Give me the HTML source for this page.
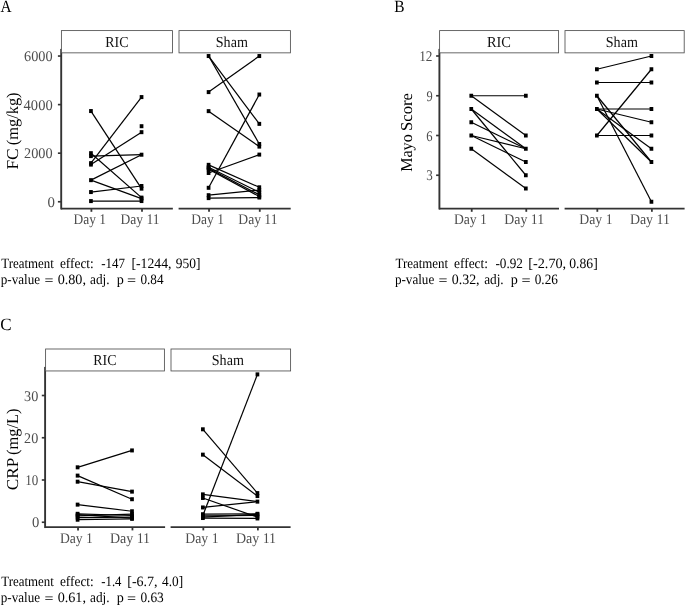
<!DOCTYPE html>
<html lang="en"><head><meta charset="utf-8"><title>Figure</title>
<style>
html,body{margin:0;padding:0;background:#fff;}
body{width:685px;height:605px;overflow:hidden;}
svg{display:block;font-family:"Liberation Serif", "DejaVu Serif", serif;text-rendering:geometricPrecision;will-change:transform;}
</style></head><body>
<svg width="685" height="605" viewBox="0 0 685 605">
<rect width="685" height="605" fill="#fff"/>
<!-- panel A -->
<text x="0.45" y="11.6" font-size="17.2" fill="#000" textLength="11.06" lengthAdjust="spacingAndGlyphs">A</text>
<line x1="90.95" y1="111.05" x2="141.55" y2="188.64" stroke="#000" stroke-width="1.22"/>
<line x1="90.95" y1="153.18" x2="141.55" y2="197.62" stroke="#000" stroke-width="1.22"/>
<line x1="90.95" y1="156.09" x2="141.55" y2="154.71" stroke="#000" stroke-width="1.22"/>
<line x1="90.95" y1="163.14" x2="141.55" y2="97.08" stroke="#000" stroke-width="1.22"/>
<line x1="90.95" y1="164.59" x2="141.55" y2="132.17" stroke="#000" stroke-width="1.22"/>
<line x1="90.95" y1="180.16" x2="141.55" y2="154.71" stroke="#000" stroke-width="1.22"/>
<line x1="90.95" y1="180.16" x2="141.55" y2="198.59" stroke="#000" stroke-width="1.22"/>
<line x1="90.95" y1="192.06" x2="141.55" y2="186.01" stroke="#000" stroke-width="1.22"/>
<line x1="90.95" y1="201.09" x2="141.55" y2="201.05" stroke="#000" stroke-width="1.22"/>
<rect x="89.1" y="199.09" width="3.7" height="4" fill="#000"/>
<rect x="89.1" y="190.06" width="3.7" height="4" fill="#000"/>
<rect x="89.1" y="178.16" width="3.7" height="4" fill="#000"/>
<rect x="89.1" y="162.59" width="3.7" height="4" fill="#000"/>
<rect x="89.1" y="161.14" width="3.7" height="4" fill="#000"/>
<rect x="89.1" y="154.09" width="3.7" height="4" fill="#000"/>
<rect x="89.1" y="151.18" width="3.7" height="4" fill="#000"/>
<rect x="89.1" y="109.05" width="3.7" height="4" fill="#000"/>
<rect x="139.7" y="199.05" width="3.7" height="4" fill="#000"/>
<rect x="139.7" y="196.59" width="3.7" height="4" fill="#000"/>
<rect x="139.7" y="195.62" width="3.7" height="4" fill="#000"/>
<rect x="139.7" y="186.64" width="3.7" height="4" fill="#000"/>
<rect x="139.7" y="184.01" width="3.7" height="4" fill="#000"/>
<rect x="139.7" y="152.71" width="3.7" height="4" fill="#000"/>
<rect x="139.7" y="130.17" width="3.7" height="4" fill="#000"/>
<rect x="139.7" y="124.2" width="3.7" height="4" fill="#000"/>
<rect x="139.7" y="95.08" width="3.7" height="4" fill="#000"/>
<line x1="91.4" y1="208.6" x2="91.4" y2="211.8" stroke="#333" stroke-width="1.8"/>
<line x1="142" y1="208.6" x2="142" y2="211.8" stroke="#333" stroke-width="1.8"/>
<line x1="61.05" y1="208.6" x2="172.85" y2="208.6" stroke="#333" stroke-width="1.7"/>
<line x1="208.58" y1="56.04" x2="259.32" y2="123.87" stroke="#000" stroke-width="1.22"/>
<line x1="208.58" y1="56.04" x2="259.32" y2="144" stroke="#000" stroke-width="1.22"/>
<line x1="208.58" y1="92.1" x2="259.32" y2="56.04" stroke="#000" stroke-width="1.22"/>
<line x1="208.58" y1="111.14" x2="259.32" y2="146.6" stroke="#000" stroke-width="1.22"/>
<line x1="208.58" y1="172.97" x2="259.32" y2="154.61" stroke="#000" stroke-width="1.22"/>
<line x1="208.58" y1="187.81" x2="259.32" y2="94.53" stroke="#000" stroke-width="1.22"/>
<line x1="208.58" y1="164.84" x2="259.32" y2="187.3" stroke="#000" stroke-width="1.22"/>
<line x1="208.58" y1="167.27" x2="259.32" y2="192.28" stroke="#000" stroke-width="1.22"/>
<line x1="208.58" y1="168.36" x2="259.32" y2="194.83" stroke="#000" stroke-width="1.22"/>
<line x1="208.58" y1="169.33" x2="259.32" y2="196.53" stroke="#000" stroke-width="1.22"/>
<line x1="208.58" y1="195.19" x2="259.32" y2="190.09" stroke="#000" stroke-width="1.22"/>
<line x1="208.58" y1="198.11" x2="259.32" y2="197.52" stroke="#000" stroke-width="1.22"/>
<rect x="206.73" y="196.11" width="3.7" height="4" fill="#000"/>
<rect x="206.73" y="193.19" width="3.7" height="4" fill="#000"/>
<rect x="206.73" y="185.81" width="3.7" height="4" fill="#000"/>
<rect x="206.73" y="170.97" width="3.7" height="4" fill="#000"/>
<rect x="206.73" y="167.33" width="3.7" height="4" fill="#000"/>
<rect x="206.73" y="166.36" width="3.7" height="4" fill="#000"/>
<rect x="206.73" y="165.27" width="3.7" height="4" fill="#000"/>
<rect x="206.73" y="162.84" width="3.7" height="4" fill="#000"/>
<rect x="206.73" y="109.14" width="3.7" height="4" fill="#000"/>
<rect x="206.73" y="90.1" width="3.7" height="4" fill="#000"/>
<rect x="206.73" y="54.04" width="3.7" height="4" fill="#000"/>
<rect x="257.47" y="195.52" width="3.7" height="4" fill="#000"/>
<rect x="257.47" y="194.53" width="3.7" height="4" fill="#000"/>
<rect x="257.47" y="192.83" width="3.7" height="4" fill="#000"/>
<rect x="257.47" y="190.28" width="3.7" height="4" fill="#000"/>
<rect x="257.47" y="188.09" width="3.7" height="4" fill="#000"/>
<rect x="257.47" y="185.3" width="3.7" height="4" fill="#000"/>
<rect x="257.47" y="152.61" width="3.7" height="4" fill="#000"/>
<rect x="257.47" y="144.6" width="3.7" height="4" fill="#000"/>
<rect x="257.47" y="142" width="3.7" height="4" fill="#000"/>
<rect x="257.47" y="121.87" width="3.7" height="4" fill="#000"/>
<rect x="257.47" y="92.53" width="3.7" height="4" fill="#000"/>
<rect x="257.47" y="54.04" width="3.7" height="4" fill="#000"/>
<line x1="209.03" y1="208.6" x2="209.03" y2="211.8" stroke="#333" stroke-width="1.8"/>
<line x1="259.77" y1="208.6" x2="259.77" y2="211.8" stroke="#333" stroke-width="1.8"/>
<line x1="178.6" y1="208.6" x2="290.7" y2="208.6" stroke="#333" stroke-width="1.7"/>
<line x1="61.2" y1="48.9" x2="61.2" y2="209.45" stroke="#333" stroke-width="1.9"/>
<line x1="57.9" y1="201.75" x2="61.2" y2="201.75" stroke="#333" stroke-width="1.65"/>
<line x1="57.9" y1="153.18" x2="61.2" y2="153.18" stroke="#333" stroke-width="1.65"/>
<line x1="57.9" y1="104.61" x2="61.2" y2="104.61" stroke="#333" stroke-width="1.65"/>
<line x1="57.9" y1="56.04" x2="61.2" y2="56.04" stroke="#333" stroke-width="1.65"/>
<text x="24.09" y="61.24" font-size="14.7" fill="#4d4d4d" textLength="28.56" lengthAdjust="spacingAndGlyphs">6000</text>
<text x="23.62" y="109.81" font-size="14.7" fill="#4d4d4d" textLength="29.04" lengthAdjust="spacingAndGlyphs">4000</text>
<text x="24.07" y="158.38" font-size="14.7" fill="#4d4d4d" textLength="28.57" lengthAdjust="spacingAndGlyphs">2000</text>
<text x="47.63" y="206.95" font-size="14.7" fill="#4d4d4d" textLength="7.43" lengthAdjust="spacingAndGlyphs">0</text>
<rect x="61.4" y="30.6" width="111.1" height="22.25" fill="#fff" stroke="#4f4f4f" stroke-width="0.85"/>
<text x="105.3" y="46.9" font-size="15.3" fill="#111" textLength="23.17" lengthAdjust="spacingAndGlyphs">RIC</text>
<rect x="179" y="30.6" width="111.4" height="22.25" fill="#fff" stroke="#4f4f4f" stroke-width="0.85"/>
<text x="215.76" y="46.9" font-size="15.3" fill="#111" textLength="32.17" lengthAdjust="spacingAndGlyphs">Sham</text>
<text x="73.61" y="224.2" font-size="14.7" fill="#4d4d4d" textLength="32.5" lengthAdjust="spacingAndGlyphs">Day 1</text>
<text x="120.51" y="224.2" font-size="14.7" fill="#4d4d4d" textLength="38.99" lengthAdjust="spacingAndGlyphs">Day 11</text>
<text x="191.31" y="224.2" font-size="14.7" fill="#4d4d4d" textLength="32.6" lengthAdjust="spacingAndGlyphs">Day 1</text>
<text x="238.31" y="224.2" font-size="14.7" fill="#4d4d4d" textLength="39.19" lengthAdjust="spacingAndGlyphs">Day 11</text>
<g transform="translate(17.6,169.4) rotate(-90)"><text x="-0.2" y="0" font-size="16.6" fill="#000" textLength="21.26" lengthAdjust="spacingAndGlyphs">FC</text></g>
<g transform="translate(17.6,144.8) rotate(-90)"><text x="-0.42" y="0" font-size="16.6" fill="#000" textLength="52.74" lengthAdjust="spacingAndGlyphs">(mg/kg)</text></g>
<text x="1.27" y="267.7" font-size="14.3" fill="#000" textLength="52.51" lengthAdjust="spacingAndGlyphs">Treatment</text>
<text x="59.88" y="267.7" font-size="14.3" fill="#000" textLength="33.89" lengthAdjust="spacingAndGlyphs">effect:</text>
<text x="101.22" y="267.7" font-size="14.3" fill="#000" textLength="23.75" lengthAdjust="spacingAndGlyphs">-147</text>
<text x="131.48" y="267.7" font-size="14.3" fill="#000" textLength="39.98" lengthAdjust="spacingAndGlyphs">[-1244,</text>
<text x="175.67" y="267.7" font-size="14.3" fill="#000" textLength="24.74" lengthAdjust="spacingAndGlyphs">950]</text>
<text x="0.79" y="283.9" font-size="14.3" fill="#000" textLength="39.37" lengthAdjust="spacingAndGlyphs">p-value</text>
<text x="44.41" y="284.9" font-size="14.3" fill="#000" textLength="8.97" lengthAdjust="spacingAndGlyphs">=</text>
<text x="57.66" y="283.9" font-size="14.3" fill="#000" textLength="28.33" lengthAdjust="spacingAndGlyphs">0.80,</text>
<text x="90.03" y="283.9" font-size="14.3" fill="#000" textLength="19.54" lengthAdjust="spacingAndGlyphs">adj.</text>
<text x="116.77" y="283.9" font-size="14.3" fill="#000" textLength="7.08" lengthAdjust="spacingAndGlyphs">p</text>
<text x="127.1" y="284.9" font-size="14.3" fill="#000" textLength="9.09" lengthAdjust="spacingAndGlyphs">=</text>
<text x="140.4" y="283.9" font-size="14.3" fill="#000" textLength="23.11" lengthAdjust="spacingAndGlyphs">0.84</text>
<!-- panel B -->
<text x="394.36" y="11.6" font-size="17.2" fill="#000" textLength="10.3" lengthAdjust="spacingAndGlyphs">B</text>
<line x1="471.27" y1="95.75" x2="525.83" y2="95.75" stroke="#000" stroke-width="1.22"/>
<line x1="471.27" y1="95.75" x2="525.83" y2="135.5" stroke="#000" stroke-width="1.22"/>
<line x1="471.27" y1="109" x2="525.83" y2="148.75" stroke="#000" stroke-width="1.22"/>
<line x1="471.27" y1="109" x2="525.83" y2="175.25" stroke="#000" stroke-width="1.22"/>
<line x1="471.27" y1="122.25" x2="525.83" y2="148.75" stroke="#000" stroke-width="1.22"/>
<line x1="471.27" y1="135.5" x2="525.83" y2="148.75" stroke="#000" stroke-width="1.22"/>
<line x1="471.27" y1="135.5" x2="525.83" y2="162" stroke="#000" stroke-width="1.22"/>
<line x1="471.27" y1="148.75" x2="525.83" y2="188.5" stroke="#000" stroke-width="1.22"/>
<rect x="469.42" y="146.75" width="3.7" height="4" fill="#000"/>
<rect x="469.42" y="133.5" width="3.7" height="4" fill="#000"/>
<rect x="469.42" y="120.25" width="3.7" height="4" fill="#000"/>
<rect x="469.42" y="107" width="3.7" height="4" fill="#000"/>
<rect x="469.42" y="93.75" width="3.7" height="4" fill="#000"/>
<rect x="523.98" y="186.5" width="3.7" height="4" fill="#000"/>
<rect x="523.98" y="173.25" width="3.7" height="4" fill="#000"/>
<rect x="523.98" y="160" width="3.7" height="4" fill="#000"/>
<rect x="523.98" y="146.75" width="3.7" height="4" fill="#000"/>
<rect x="523.98" y="133.5" width="3.7" height="4" fill="#000"/>
<rect x="523.98" y="93.75" width="3.7" height="4" fill="#000"/>
<line x1="471.72" y1="208.6" x2="471.72" y2="211.8" stroke="#333" stroke-width="1.8"/>
<line x1="526.28" y1="208.6" x2="526.28" y2="211.8" stroke="#333" stroke-width="1.8"/>
<line x1="439" y1="208.6" x2="559" y2="208.6" stroke="#333" stroke-width="1.7"/>
<line x1="596.87" y1="69.25" x2="651.43" y2="56" stroke="#000" stroke-width="1.22"/>
<line x1="596.87" y1="82.5" x2="651.43" y2="82.5" stroke="#000" stroke-width="1.22"/>
<line x1="596.87" y1="95.75" x2="651.43" y2="162" stroke="#000" stroke-width="1.22"/>
<line x1="596.87" y1="95.75" x2="651.43" y2="201.75" stroke="#000" stroke-width="1.22"/>
<line x1="596.87" y1="109" x2="651.43" y2="109" stroke="#000" stroke-width="1.22"/>
<line x1="596.87" y1="109" x2="651.43" y2="122.25" stroke="#000" stroke-width="1.22"/>
<line x1="596.87" y1="109" x2="651.43" y2="148.75" stroke="#000" stroke-width="1.22"/>
<line x1="596.87" y1="109" x2="651.43" y2="162" stroke="#000" stroke-width="1.22"/>
<line x1="596.87" y1="135.5" x2="651.43" y2="135.5" stroke="#000" stroke-width="1.22"/>
<line x1="596.87" y1="135.5" x2="651.43" y2="69.25" stroke="#000" stroke-width="1.22"/>
<rect x="595.02" y="133.5" width="3.7" height="4" fill="#000"/>
<rect x="595.02" y="107" width="3.7" height="4" fill="#000"/>
<rect x="595.02" y="93.75" width="3.7" height="4" fill="#000"/>
<rect x="595.02" y="80.5" width="3.7" height="4" fill="#000"/>
<rect x="595.02" y="67.25" width="3.7" height="4" fill="#000"/>
<rect x="649.58" y="199.75" width="3.7" height="4" fill="#000"/>
<rect x="649.58" y="160" width="3.7" height="4" fill="#000"/>
<rect x="649.58" y="146.75" width="3.7" height="4" fill="#000"/>
<rect x="649.58" y="133.5" width="3.7" height="4" fill="#000"/>
<rect x="649.58" y="120.25" width="3.7" height="4" fill="#000"/>
<rect x="649.58" y="107" width="3.7" height="4" fill="#000"/>
<rect x="649.58" y="80.5" width="3.7" height="4" fill="#000"/>
<rect x="649.58" y="67.25" width="3.7" height="4" fill="#000"/>
<rect x="649.58" y="54" width="3.7" height="4" fill="#000"/>
<line x1="597.32" y1="208.6" x2="597.32" y2="211.8" stroke="#333" stroke-width="1.8"/>
<line x1="651.88" y1="208.6" x2="651.88" y2="211.8" stroke="#333" stroke-width="1.8"/>
<line x1="564.6" y1="208.6" x2="684.6" y2="208.6" stroke="#333" stroke-width="1.7"/>
<line x1="439.4" y1="48.9" x2="439.4" y2="209.45" stroke="#333" stroke-width="1.9"/>
<line x1="436.1" y1="175.25" x2="439.4" y2="175.25" stroke="#333" stroke-width="1.65"/>
<line x1="436.1" y1="135.5" x2="439.4" y2="135.5" stroke="#333" stroke-width="1.65"/>
<line x1="436.1" y1="95.75" x2="439.4" y2="95.75" stroke="#333" stroke-width="1.65"/>
<line x1="436.1" y1="56" x2="439.4" y2="56" stroke="#333" stroke-width="1.65"/>
<text x="419.13" y="61.2" font-size="14.7" fill="#4d4d4d" textLength="13.3" lengthAdjust="spacingAndGlyphs">12</text>
<text x="426.5" y="100.95" font-size="14.7" fill="#4d4d4d" textLength="6.21" lengthAdjust="spacingAndGlyphs">9</text>
<text x="426.36" y="140.7" font-size="14.7" fill="#4d4d4d" textLength="6.32" lengthAdjust="spacingAndGlyphs">6</text>
<text x="426.27" y="180.45" font-size="14.7" fill="#4d4d4d" textLength="6.54" lengthAdjust="spacingAndGlyphs">3</text>
<rect x="439.6" y="30.6" width="119" height="22.25" fill="#fff" stroke="#4f4f4f" stroke-width="0.85"/>
<text x="486.89" y="46.9" font-size="15.3" fill="#111" textLength="24.01" lengthAdjust="spacingAndGlyphs">RIC</text>
<rect x="565" y="30.6" width="119.2" height="22.25" fill="#fff" stroke="#4f4f4f" stroke-width="0.85"/>
<text x="605.76" y="46.9" font-size="15.3" fill="#111" textLength="32.17" lengthAdjust="spacingAndGlyphs">Sham</text>
<text x="453.91" y="224.2" font-size="14.7" fill="#4d4d4d" textLength="33.01" lengthAdjust="spacingAndGlyphs">Day 1</text>
<text x="504.31" y="224.2" font-size="14.7" fill="#4d4d4d" textLength="39.81" lengthAdjust="spacingAndGlyphs">Day 11</text>
<text x="579.3" y="224.2" font-size="14.7" fill="#4d4d4d" textLength="33.22" lengthAdjust="spacingAndGlyphs">Day 1</text>
<text x="629.9" y="224.2" font-size="14.7" fill="#4d4d4d" textLength="40.02" lengthAdjust="spacingAndGlyphs">Day 11</text>
<g transform="translate(412,171.7) rotate(-90)"><text x="-0.16" y="0" font-size="16.6" fill="#000" textLength="37.58" lengthAdjust="spacingAndGlyphs">Mayo</text></g>
<g transform="translate(412,130.1) rotate(-90)"><text x="-0.81" y="0" font-size="16.6" fill="#000" textLength="37.89" lengthAdjust="spacingAndGlyphs">Score</text></g>
<text x="395.47" y="267.7" font-size="14.3" fill="#000" textLength="52.61" lengthAdjust="spacingAndGlyphs">Treatment</text>
<text x="453.98" y="267.7" font-size="14.3" fill="#000" textLength="34.1" lengthAdjust="spacingAndGlyphs">effect:</text>
<text x="495.41" y="267.7" font-size="14.3" fill="#000" textLength="27.52" lengthAdjust="spacingAndGlyphs">-0.92</text>
<text x="528.24" y="267.7" font-size="14.3" fill="#000" textLength="37.95" lengthAdjust="spacingAndGlyphs">[-2.70,</text>
<text x="569.28" y="267.7" font-size="14.3" fill="#000" textLength="28.43" lengthAdjust="spacingAndGlyphs">0.86]</text>
<text x="394.89" y="283.9" font-size="14.3" fill="#000" textLength="39.37" lengthAdjust="spacingAndGlyphs">p-value</text>
<text x="438.51" y="284.9" font-size="14.3" fill="#000" textLength="8.97" lengthAdjust="spacingAndGlyphs">=</text>
<text x="451.77" y="283.9" font-size="14.3" fill="#000" textLength="27.81" lengthAdjust="spacingAndGlyphs">0.32,</text>
<text x="484.13" y="283.9" font-size="14.3" fill="#000" textLength="19.54" lengthAdjust="spacingAndGlyphs">adj.</text>
<text x="510.87" y="283.9" font-size="14.3" fill="#000" textLength="7.08" lengthAdjust="spacingAndGlyphs">p</text>
<text x="521.4" y="284.9" font-size="14.3" fill="#000" textLength="9.09" lengthAdjust="spacingAndGlyphs">=</text>
<text x="534.7" y="283.9" font-size="14.3" fill="#000" textLength="23.2" lengthAdjust="spacingAndGlyphs">0.26</text>
<!-- panel C -->
<text x="0.3" y="329.6" font-size="17.2" fill="#000" textLength="11.33" lengthAdjust="spacingAndGlyphs">C</text>
<line x1="77.59" y1="467.32" x2="132.01" y2="450.43" stroke="#000" stroke-width="1.22"/>
<line x1="77.59" y1="475.61" x2="132.01" y2="499.22" stroke="#000" stroke-width="1.22"/>
<line x1="77.59" y1="481.69" x2="132.01" y2="491.62" stroke="#000" stroke-width="1.22"/>
<line x1="77.59" y1="504.63" x2="132.01" y2="511.26" stroke="#000" stroke-width="1.22"/>
<line x1="77.59" y1="513.8" x2="132.01" y2="515.49" stroke="#000" stroke-width="1.22"/>
<line x1="77.59" y1="515.91" x2="132.01" y2="514.22" stroke="#000" stroke-width="1.22"/>
<line x1="77.59" y1="517.6" x2="132.01" y2="517.18" stroke="#000" stroke-width="1.22"/>
<line x1="77.59" y1="519.72" x2="132.01" y2="518.87" stroke="#000" stroke-width="1.22"/>
<line x1="77.59" y1="514.64" x2="132.01" y2="518.02" stroke="#000" stroke-width="1.22"/>
<rect x="75.74" y="517.72" width="3.7" height="4" fill="#000"/>
<rect x="75.74" y="515.6" width="3.7" height="4" fill="#000"/>
<rect x="75.74" y="513.91" width="3.7" height="4" fill="#000"/>
<rect x="75.74" y="512.64" width="3.7" height="4" fill="#000"/>
<rect x="75.74" y="511.8" width="3.7" height="4" fill="#000"/>
<rect x="75.74" y="502.63" width="3.7" height="4" fill="#000"/>
<rect x="75.74" y="479.69" width="3.7" height="4" fill="#000"/>
<rect x="75.74" y="473.61" width="3.7" height="4" fill="#000"/>
<rect x="75.74" y="465.32" width="3.7" height="4" fill="#000"/>
<rect x="130.16" y="516.87" width="3.7" height="4" fill="#000"/>
<rect x="130.16" y="516.02" width="3.7" height="4" fill="#000"/>
<rect x="130.16" y="515.18" width="3.7" height="4" fill="#000"/>
<rect x="130.16" y="513.49" width="3.7" height="4" fill="#000"/>
<rect x="130.16" y="512.22" width="3.7" height="4" fill="#000"/>
<rect x="130.16" y="509.26" width="3.7" height="4" fill="#000"/>
<rect x="130.16" y="497.22" width="3.7" height="4" fill="#000"/>
<rect x="130.16" y="489.62" width="3.7" height="4" fill="#000"/>
<rect x="130.16" y="448.43" width="3.7" height="4" fill="#000"/>
<line x1="78.04" y1="527.2" x2="78.04" y2="530.4" stroke="#333" stroke-width="1.8"/>
<line x1="132.46" y1="527.2" x2="132.46" y2="530.4" stroke="#333" stroke-width="1.8"/>
<line x1="45.4" y1="527.2" x2="165.1" y2="527.2" stroke="#333" stroke-width="1.7"/>
<line x1="202.87" y1="515.49" x2="257.43" y2="374.38" stroke="#000" stroke-width="1.22"/>
<line x1="202.87" y1="429.3" x2="257.43" y2="493.1" stroke="#000" stroke-width="1.22"/>
<line x1="202.87" y1="454.65" x2="257.43" y2="496.06" stroke="#000" stroke-width="1.22"/>
<line x1="202.87" y1="494.37" x2="257.43" y2="501.63" stroke="#000" stroke-width="1.22"/>
<line x1="202.87" y1="497.96" x2="257.43" y2="517.18" stroke="#000" stroke-width="1.22"/>
<line x1="202.87" y1="507.46" x2="257.43" y2="501.63" stroke="#000" stroke-width="1.22"/>
<line x1="202.87" y1="514.22" x2="257.43" y2="513.8" stroke="#000" stroke-width="1.22"/>
<line x1="202.87" y1="515.91" x2="257.43" y2="515.49" stroke="#000" stroke-width="1.22"/>
<line x1="202.87" y1="518.02" x2="257.43" y2="518.45" stroke="#000" stroke-width="1.22"/>
<line x1="202.87" y1="517.18" x2="257.43" y2="514.22" stroke="#000" stroke-width="1.22"/>
<rect x="201.02" y="516.02" width="3.7" height="4" fill="#000"/>
<rect x="201.02" y="515.18" width="3.7" height="4" fill="#000"/>
<rect x="201.02" y="513.91" width="3.7" height="4" fill="#000"/>
<rect x="201.02" y="513.49" width="3.7" height="4" fill="#000"/>
<rect x="201.02" y="512.22" width="3.7" height="4" fill="#000"/>
<rect x="201.02" y="505.46" width="3.7" height="4" fill="#000"/>
<rect x="201.02" y="495.96" width="3.7" height="4" fill="#000"/>
<rect x="201.02" y="492.37" width="3.7" height="4" fill="#000"/>
<rect x="201.02" y="452.65" width="3.7" height="4" fill="#000"/>
<rect x="201.02" y="427.3" width="3.7" height="4" fill="#000"/>
<rect x="255.58" y="516.45" width="3.7" height="4" fill="#000"/>
<rect x="255.58" y="515.18" width="3.7" height="4" fill="#000"/>
<rect x="255.58" y="513.49" width="3.7" height="4" fill="#000"/>
<rect x="255.58" y="512.22" width="3.7" height="4" fill="#000"/>
<rect x="255.58" y="511.8" width="3.7" height="4" fill="#000"/>
<rect x="255.58" y="499.63" width="3.7" height="4" fill="#000"/>
<rect x="255.58" y="494.06" width="3.7" height="4" fill="#000"/>
<rect x="255.58" y="491.1" width="3.7" height="4" fill="#000"/>
<rect x="255.58" y="372.38" width="3.7" height="4" fill="#000"/>
<line x1="203.32" y1="527.2" x2="203.32" y2="530.4" stroke="#333" stroke-width="1.8"/>
<line x1="257.88" y1="527.2" x2="257.88" y2="530.4" stroke="#333" stroke-width="1.8"/>
<line x1="170.6" y1="527.2" x2="290.6" y2="527.2" stroke="#333" stroke-width="1.7"/>
<line x1="45.1" y1="366.9" x2="45.1" y2="528.05" stroke="#333" stroke-width="1.9"/>
<line x1="41.8" y1="522.25" x2="45.1" y2="522.25" stroke="#333" stroke-width="1.65"/>
<line x1="41.8" y1="480" x2="45.1" y2="480" stroke="#333" stroke-width="1.65"/>
<line x1="41.8" y1="437.75" x2="45.1" y2="437.75" stroke="#333" stroke-width="1.65"/>
<line x1="41.8" y1="395.5" x2="45.1" y2="395.5" stroke="#333" stroke-width="1.65"/>
<text x="24.02" y="400.7" font-size="14.7" fill="#4d4d4d" textLength="14.22" lengthAdjust="spacingAndGlyphs">30</text>
<text x="24.08" y="442.95" font-size="14.7" fill="#4d4d4d" textLength="14.16" lengthAdjust="spacingAndGlyphs">20</text>
<text x="25.15" y="485.2" font-size="14.7" fill="#4d4d4d" textLength="13.04" lengthAdjust="spacingAndGlyphs">10</text>
<text x="31.94" y="527.45" font-size="14.7" fill="#4d4d4d" textLength="7.31" lengthAdjust="spacingAndGlyphs">0</text>
<rect x="45.6" y="349" width="118.8" height="21.95" fill="#fff" stroke="#4f4f4f" stroke-width="0.85"/>
<text x="93.3" y="364.9" font-size="15.3" fill="#111" textLength="23.17" lengthAdjust="spacingAndGlyphs">RIC</text>
<rect x="171" y="349" width="119.6" height="21.95" fill="#fff" stroke="#4f4f4f" stroke-width="0.85"/>
<text x="211.76" y="364.9" font-size="15.3" fill="#111" textLength="32.17" lengthAdjust="spacingAndGlyphs">Sham</text>
<text x="59.91" y="542.8" font-size="14.7" fill="#4d4d4d" textLength="33.01" lengthAdjust="spacingAndGlyphs">Day 1</text>
<text x="109.9" y="542.8" font-size="14.7" fill="#4d4d4d" textLength="40.23" lengthAdjust="spacingAndGlyphs">Day 11</text>
<text x="185.3" y="542.8" font-size="14.7" fill="#4d4d4d" textLength="33.22" lengthAdjust="spacingAndGlyphs">Day 1</text>
<text x="235.9" y="542.8" font-size="14.7" fill="#4d4d4d" textLength="40.23" lengthAdjust="spacingAndGlyphs">Day 11</text>
<g transform="translate(17.5,489.8) rotate(-90)"><text x="-0.41" y="0" font-size="16.6" fill="#000" textLength="32.49" lengthAdjust="spacingAndGlyphs">CRP</text></g>
<g transform="translate(17.5,454.5) rotate(-90)"><text x="-0.42" y="0" font-size="16.6" fill="#000" textLength="46.23" lengthAdjust="spacingAndGlyphs">(mg/L)</text></g>
<text x="1.27" y="585.7" font-size="14.3" fill="#000" textLength="52.51" lengthAdjust="spacingAndGlyphs">Treatment</text>
<text x="59.88" y="585.7" font-size="14.3" fill="#000" textLength="33.89" lengthAdjust="spacingAndGlyphs">effect:</text>
<text x="101.33" y="585.7" font-size="14.3" fill="#000" textLength="20.17" lengthAdjust="spacingAndGlyphs">-1.4</text>
<text x="127.26" y="585.7" font-size="14.3" fill="#000" textLength="30.32" lengthAdjust="spacingAndGlyphs">[-6.7,</text>
<text x="162.04" y="585.7" font-size="14.3" fill="#000" textLength="21.05" lengthAdjust="spacingAndGlyphs">4.0]</text>
<text x="0.79" y="602.1" font-size="14.3" fill="#000" textLength="39.37" lengthAdjust="spacingAndGlyphs">p-value</text>
<text x="44.41" y="603.1" font-size="14.3" fill="#000" textLength="8.97" lengthAdjust="spacingAndGlyphs">=</text>
<text x="57.66" y="602.1" font-size="14.3" fill="#000" textLength="28.33" lengthAdjust="spacingAndGlyphs">0.61,</text>
<text x="90.03" y="602.1" font-size="14.3" fill="#000" textLength="19.54" lengthAdjust="spacingAndGlyphs">adj.</text>
<text x="116.77" y="602.1" font-size="14.3" fill="#000" textLength="7.08" lengthAdjust="spacingAndGlyphs">p</text>
<text x="127.1" y="603.1" font-size="14.3" fill="#000" textLength="9.09" lengthAdjust="spacingAndGlyphs">=</text>
<text x="140.39" y="602.1" font-size="14.3" fill="#000" textLength="23.43" lengthAdjust="spacingAndGlyphs">0.63</text>
</svg>
</body></html>
